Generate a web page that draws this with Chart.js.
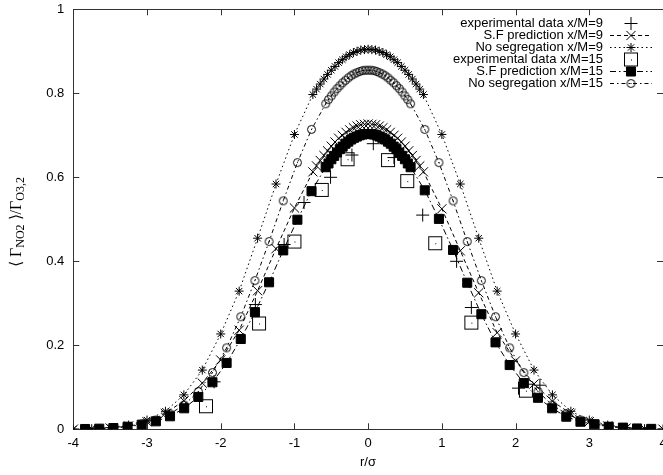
<!DOCTYPE html>
<html>
<head>
<meta charset="utf-8">
<script src="https://cdn.jsdelivr.net/npm/chart.js@4/dist/chart.umd.min.js"></script>
<style>
html, body { margin: 0; padding: 0; overflow: hidden; background: #fff; }
canvas { display: block; }
</style>
</head>
<body>
<canvas id="chart" width="663" height="475"></canvas>
<script>
var xTicks = [-4, -3, -2, -1, 0, 1, 2, 3, 4];
var yTicks = [0, 0.2, 0.4, 0.6, 0.8, 1];

var seriesNames = [
  'experimental data x/M=9',
  'S.F prediction x/M=9',
  'No segregation x/M=9',
  'experimental data x/M=15',
  'S.F prediction x/M=15',
  'No segregation x/M=15'
];

// measured points
var exp9X = [-2.09, -1.53, -1.14, -0.87, -0.51, -0.22, 0.07, 0.35, 0.74, 1.2, 1.4, 2.04, 2.33];
var exp9Y = [0.113, 0.297, 0.44, 0.54, 0.6, 0.653, 0.68, 0.647, 0.51, 0.4, 0.29, 0.098, 0.105];
var exp15X = [-2.2, -1.48, -1.0, -0.63, -0.28, 0.27, 0.53, 0.91, 1.4, 2.14];
var exp15Y = [0.055, 0.252, 0.447, 0.57, 0.643, 0.641, 0.591, 0.443, 0.254, 0.092];

// model curves, x/M=9
var model9X = [-4, -3.75, -3.5, -3.25, -3, -2.75, -2.5, -2.25, -2, -1.75, -1.5, -1.25, -1,
  -0.75, -0.7, -0.65, -0.6, -0.55, -0.5, -0.45, -0.4, -0.35, -0.3, -0.25, -0.2, -0.15, -0.1, -0.05, 0,
  0.05, 0.1, 0.15, 0.2, 0.25, 0.3, 0.35, 0.4, 0.45, 0.5, 0.55, 0.6, 0.65, 0.7, 0.75,
  1, 1.25, 1.5, 1.75, 2, 2.25, 2.5, 2.75, 3, 3.25, 3.5, 3.75, 4];
var sf9Y = [0.0003, 0.001, 0.003, 0.008, 0.018, 0.038, 0.068, 0.11, 0.165, 0.236, 0.33, 0.43, 0.527,
  0.613, 0.627, 0.64, 0.652, 0.663, 0.674, 0.684, 0.693, 0.7, 0.707, 0.713, 0.718, 0.722, 0.725, 0.726, 0.727,
  0.726, 0.725, 0.722, 0.718, 0.713, 0.707, 0.7, 0.693, 0.684, 0.674, 0.663, 0.652, 0.64, 0.627, 0.613,
  0.525, 0.425, 0.325, 0.23, 0.163, 0.108, 0.067, 0.037, 0.018, 0.008, 0.003, 0.001, 0.0003];
var ns9Y = [0.0005, 0.0015, 0.004, 0.01, 0.022, 0.043, 0.082, 0.141, 0.227, 0.329, 0.455, 0.584, 0.702,
  0.797, 0.81, 0.822, 0.834, 0.845, 0.855, 0.864, 0.873, 0.88, 0.887, 0.892, 0.897, 0.9, 0.903, 0.904, 0.905,
  0.904, 0.903, 0.9, 0.897, 0.892, 0.887, 0.88, 0.873, 0.864, 0.855, 0.845, 0.834, 0.822, 0.81, 0.797,
  0.702, 0.584, 0.455, 0.329, 0.227, 0.141, 0.082, 0.043, 0.022, 0.01, 0.004, 0.0015, 0.0005];

// model curves, x/M=15
var model15X = [-3.84, -3.648, -3.456, -3.264, -3.072, -2.88, -2.688, -2.496, -2.304, -2.112, -1.92, -1.728, -1.536, -1.344, -1.152, -0.96, -0.768,
  -0.576, -0.538, -0.499, -0.461, -0.422, -0.384, -0.346, -0.307, -0.269, -0.23, -0.192, -0.154, -0.115, -0.077, -0.038, 0,
  0.038, 0.077, 0.115, 0.154, 0.192, 0.23, 0.269, 0.307, 0.346, 0.384, 0.422, 0.461, 0.499, 0.538, 0.576,
  0.768, 0.96, 1.152, 1.344, 1.536, 1.728, 1.92, 2.112, 2.304, 2.496, 2.688, 2.88, 3.072, 3.264, 3.456, 3.648, 3.84];
var sf15Y = [0.0007, 0.0015, 0.003, 0.006, 0.011, 0.019, 0.031, 0.05, 0.077, 0.112, 0.158, 0.215, 0.279, 0.35, 0.426, 0.499, 0.567,
  0.624, 0.633, 0.643, 0.651, 0.659, 0.667, 0.673, 0.68, 0.685, 0.69, 0.694, 0.697, 0.7, 0.702, 0.703, 0.703,
  0.703, 0.702, 0.7, 0.697, 0.694, 0.69, 0.685, 0.68, 0.673, 0.667, 0.659, 0.651, 0.643, 0.633, 0.624,
  0.569, 0.501, 0.427, 0.349, 0.274, 0.207, 0.153, 0.11, 0.075, 0.05, 0.03, 0.018, 0.012, 0.006, 0.004, 0.002, 0.001];
var ns15Y = [0.001, 0.002, 0.004, 0.007, 0.013, 0.022, 0.037, 0.058, 0.09, 0.135, 0.194, 0.268, 0.354, 0.447, 0.544, 0.635, 0.714,
  0.775, 0.785, 0.794, 0.803, 0.811, 0.818, 0.825, 0.831, 0.837, 0.842, 0.846, 0.849, 0.852, 0.854, 0.855, 0.855,
  0.855, 0.854, 0.852, 0.849, 0.846, 0.842, 0.837, 0.831, 0.825, 0.818, 0.811, 0.803, 0.794, 0.785, 0.775,
  0.714, 0.635, 0.544, 0.447, 0.354, 0.268, 0.194, 0.135, 0.09, 0.058, 0.037, 0.022, 0.013, 0.007, 0.004, 0.002, 0.001];

function pts(xs, ys) {
  return xs.map(function(x, i) { return { x: x, y: ys[i] }; });
}

// gnuplot style markers with a centre dot
function dotSquare(side) {
  var c = document.createElement('canvas');
  c.width = side + 2; c.height = side + 2;
  var g = c.getContext('2d');
  g.strokeStyle = '#000'; g.lineWidth = 1;
  g.strokeRect(1.5, 1.5, side - 1, side - 1);
  g.fillStyle = '#000';
  g.fillRect(Math.floor(c.width / 2), Math.floor(c.height / 2), 1, 1);
  return c;
}
function dotCircle(d) {
  var c = document.createElement('canvas');
  c.width = d + 2; c.height = d + 2;
  var g = c.getContext('2d');
  g.strokeStyle = '#000'; g.lineWidth = 1;
  g.beginPath();
  g.arc(c.width / 2, c.height / 2, d / 2 - 0.5, 0, Math.PI * 2);
  g.stroke();
  g.fillStyle = '#000';
  g.fillRect(Math.floor(c.width / 2), Math.floor(c.height / 2), 1, 1);
  return c;
}

var FONT = "'Liberation Sans', Arial, sans-serif";

var boxPlugin = {
  id: 'gnuplotBox',
  beforeDatasetsDraw: function(chart) {
    var ctx = chart.ctx, a = chart.chartArea;
    var xs = chart.scales.x, ys = chart.scales.y;
    ctx.save();
    ctx.strokeStyle = '#333';
    ctx.lineWidth = 1;
    ctx.strokeRect(Math.round(a.left) + 0.5, Math.round(a.top) + 0.5,
      Math.round(a.right - a.left), Math.round(a.bottom - a.top));
    ctx.beginPath();
    xTicks.forEach(function(v) {
      var px = Math.round(xs.getPixelForValue(v)) + 0.5;
      ctx.moveTo(px, a.bottom); ctx.lineTo(px, a.bottom - 6);
      ctx.moveTo(px, a.top); ctx.lineTo(px, a.top + 6);
    });
    yTicks.forEach(function(v) {
      var py = Math.round(ys.getPixelForValue(v)) + 0.5;
      ctx.moveTo(a.left, py); ctx.lineTo(a.left + 6, py);
      ctx.moveTo(a.right, py); ctx.lineTo(a.right - 6, py);
    });
    ctx.stroke();
    ctx.restore();
  },
  afterDraw: function(chart) {
    var ctx = chart.ctx;
    ctx.save();
    ctx.fillStyle = '#000';
    // x title
    ctx.font = '13px ' + FONT;
    ctx.textAlign = 'center';
    ctx.textBaseline = 'middle';
    ctx.fillText('r/\u03c3', 368, 462);

    // y title with subscripts
    var parts = [
      ['\u27e8 \u0393', 16, 0], ['NO2', 12, 3],
      [' \u27e9/\u0393', 16, 0], ['O3,2', 12, 3]
    ];
    ctx.translate(17, 222);
    ctx.rotate(-Math.PI / 2);
    var total = 0;
    parts.forEach(function(p) {
      ctx.font = p[1] + "px 'Liberation Serif', serif";
      total += ctx.measureText(p[0]).width;
    });
    var cx = -total / 2;
    ctx.textAlign = 'left';
    ctx.textBaseline = 'alphabetic';
    parts.forEach(function(p) {
      ctx.font = p[1] + "px 'Liberation Serif', serif";
      ctx.fillText(p[0], cx, 4 + p[2]);
      cx += ctx.measureText(p[0]).width;
    });
    ctx.restore();

    // legend, gnuplot style: text right aligned, sample on the right
    ctx.save();
    ctx.font = '13px ' + FONT;
    ctx.textAlign = 'right';
    ctx.textBaseline = 'middle';
    chart.data.datasets.forEach(function(ds, i) {
      var y = 23.5 + 12 * i;
      ctx.fillStyle = '#000';
      ctx.fillText(ds.label, 603, y);
      if (ds.showLine) {
        ctx.strokeStyle = '#000';
        ctx.lineWidth = 1;
        ctx.setLineDash(ds.borderDash || []);
        ctx.beginPath();
        ctx.moveTo(610, y); ctx.lineTo(652, y);
        ctx.stroke();
        ctx.setLineDash([]);
      }
      ctx.strokeStyle = '#000';
      ctx.fillStyle = ds.pointBackgroundColor;
      ctx.lineWidth = 1;
      Chart.helpers.drawPoint(ctx, {
        pointStyle: ds.pointStyle, radius: ds.pointRadius, rotation: 0, borderWidth: 1
      }, 631, y);
    });
    ctx.restore();
  }
};

var common = {
  borderColor: '#000',
  pointBorderColor: '#000',
  borderWidth: 1,
  pointBorderWidth: 1,
  pointHoverRadius: 0,
  tension: 0
};

function ds(label, data, extra, order) {
  var o = Object.assign({ label: label, data: data, order: order }, common, extra);
  return o;
}

new Chart(document.getElementById('chart'), {
  type: 'scatter',
  data: {
    datasets: [
      ds(seriesNames[0], pts(exp9X, exp9Y), { showLine: false, pointStyle: 'cross', pointRadius: 6.5, pointBackgroundColor: 'rgba(0,0,0,0)' }, 6),
      ds(seriesNames[1], pts(model9X, sf9Y), { showLine: true, borderDash: [4, 3], pointStyle: 'crossRot', pointRadius: 6.5, pointBackgroundColor: 'rgba(0,0,0,0)' }, 5),
      ds(seriesNames[2], pts(model9X, ns9Y), { showLine: true, borderDash: [1.5, 3], pointStyle: 'star', pointRadius: 4.5, pointBackgroundColor: 'rgba(0,0,0,0)' }, 4),
      ds(seriesNames[3], pts(exp15X, exp15Y), { showLine: false, pointStyle: dotSquare(14), pointRadius: 7, pointBackgroundColor: 'rgba(0,0,0,0)' }, 3),
      ds(seriesNames[4], pts(model15X, sf15Y), { showLine: true, borderDash: [6, 3, 1.5, 3], pointStyle: 'rect', pointRadius: 6.4, pointBackgroundColor: '#000' }, 2),
      ds(seriesNames[5], pts(model15X, ns15Y), { showLine: true, borderDash: [4, 3, 1.5, 3], pointStyle: dotCircle(9), pointRadius: 4.5, pointBackgroundColor: 'rgba(0,0,0,0)' }, 1)
    ]
  },
  options: {
    responsive: false,
    animation: false,
    devicePixelRatio: 1,
    layout: { autoPadding: false, padding: { top: 9.3, right: -2.3, left: 0, bottom: 0 } },
    plugins: { legend: { display: false }, tooltip: { enabled: false } },
    scales: {
      x: {
        type: 'linear', min: -4, max: 4,
        grid: { display: false, drawTicks: false },
        border: { display: false },
        afterBuildTicks: function(s) { s.ticks = xTicks.map(function(v) { return { value: v }; }); },
        afterFit: function(s) { s.height = 45.7; s.paddingLeft = 0; s.paddingRight = -2.3; },
        ticks: { color: '#000', padding: 6, maxRotation: 0, font: { family: FONT, size: 13 },
          callback: function(v) { return String(v); } }
      },
      y: {
        type: 'linear', min: 0, max: 1,
        grid: { display: false, drawTicks: false },
        border: { display: false },
        afterBuildTicks: function(s) { s.ticks = yTicks.map(function(v) { return { value: v }; }); },
        afterFit: function(s) { s.width = 73.3; s.paddingTop = 0; s.paddingBottom = 0; },
        ticks: { color: '#000', padding: 9, font: { family: FONT, size: 13 },
          callback: function(v) { return String(v); } }
      }
    }
  },
  plugins: [boxPlugin]
});
</script>
</body>
</html>
